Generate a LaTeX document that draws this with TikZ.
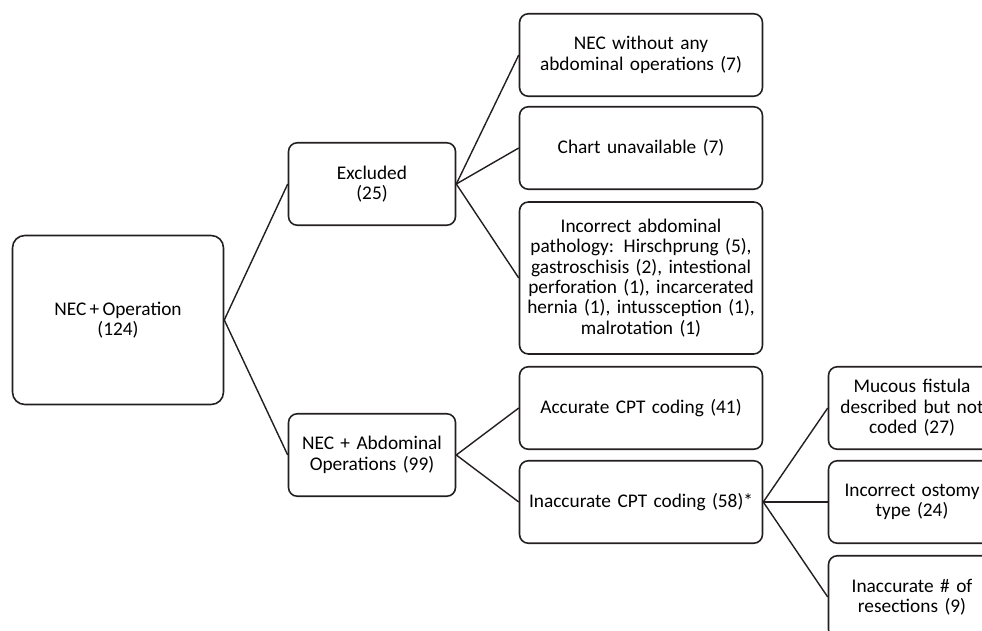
\documentclass[tikz,border=0pt]{standalone}
\usepackage{fontspec}
\setmainfont{Carlito}[WordSpace=0.75]
\definecolor{myline}{RGB}{35, 31, 32}

\begin{document}
\begin{tikzpicture}[x=0.02cm, y=-0.02cm,
    box/.style={draw=myline, line width=0.9pt, rounded corners=5pt, align=center,
        font=\fontsize{11}{11.6}\selectfont, inner sep=2pt},
    smallbox/.style={box, minimum width=3.32cm, minimum height=1.65cm, text width=3.2cm},
    widebox/.style={box, minimum width=4.86cm, minimum height=1.65cm, text width=4.7cm},
    link/.style={draw=myline, line width=0.8pt}]
        \useasboundingbox (0,0) rectangle (982,631);
        \clip (0,0) rectangle (982,631);

        % Root
        \node[box, minimum width=4.22cm, minimum height=3.38cm, rounded corners=7pt] (root) at (118,320) {NEC + Operation\\(124)};

        % Second level
        \node[smallbox] (excl) at (372,184) {Excluded\\(25)};
        \node[smallbox] (abd) at (372,455) {NEC + Abdominal\\Operations (99)};

        % Excluded cases
        \node[widebox] (noop) at (641,55) {NEC without any\\abdominal operations (7)};
        \node[widebox] (chart) at (641,148) {Chart unavailable (7)};
        \node[widebox, minimum height=3.04cm] (path) at (641,278) {Incorrect abdominal\\pathology: Hirschprung (5),\\gastroschisis (2), intestional\\perforation (1), incarcerated\\hernia (1), intussception (1),\\malrotation (1)};

        % Coding
        \node[widebox] (acc) at (641,408) {Accurate CPT coding (41)};
        \node[widebox] (inacc) at (641,502) {Inaccurate CPT coding (58)*};

        % Coding errors (cut off at the right)
        \node[smallbox] (fist) at (912,408) {Mucous fistula\\described but not\\coded (27)};
        \node[smallbox] (osto) at (912,502) {Incorrect ostomy\\type (24)};
        \node[smallbox] (resec) at (912,597) {Inaccurate \# of\\resections (9)};

        % Links
        \draw[link] (root.east) -- (excl.west);
        \draw[link] (root.east) -- (abd.west);
        \foreach \n in {noop, chart, path}
            \draw[link] (excl.east) -- (\n.west);
        \foreach \n in {acc, inacc}
            \draw[link] (abd.east) -- (\n.west);
        \foreach \n in {fist, osto, resec}
            \draw[link] (inacc.east) -- (\n.west);
    \end{tikzpicture}
\end{document}
